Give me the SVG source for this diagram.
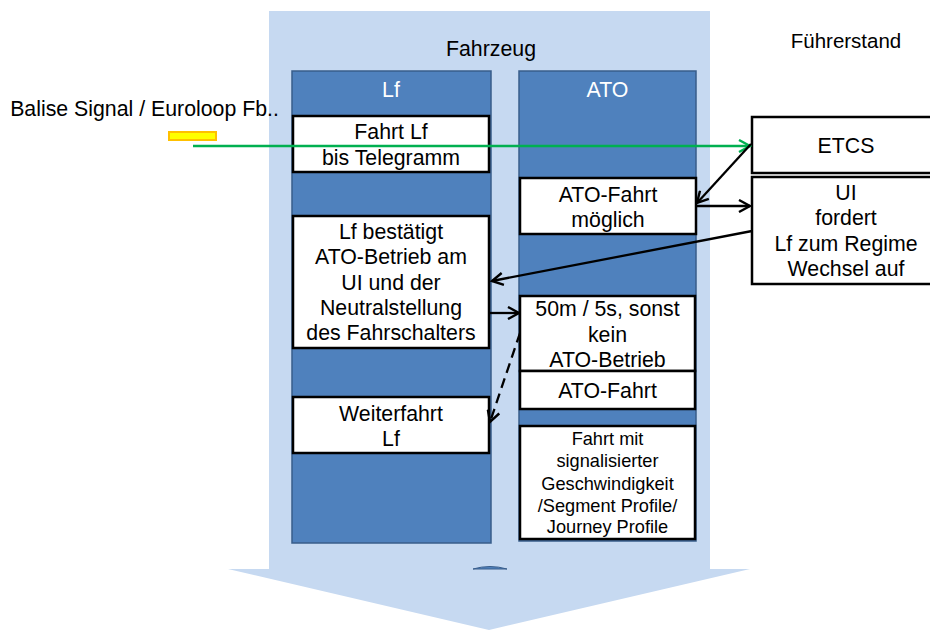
<svg xmlns="http://www.w3.org/2000/svg" width="930" height="630" viewBox="0 0 930 630">
<style>
text{font-family:"Liberation Sans",Arial,sans-serif;fill:#000;text-anchor:middle;font-size:21.3px}
.col{fill:#4F81BD;stroke:#385D8A;stroke-width:1.5}
.box{fill:#fff;stroke:#000;stroke-width:2.5}
.hdr{fill:#fff}
.sm{font-size:18.2px}
.blk{stroke:#000;stroke-width:2.3;fill:none}
.grn{stroke:#00B050;stroke-width:2.3;fill:none}
</style>
<defs>
<marker id="ab" markerUnits="userSpaceOnUse" markerWidth="14" markerHeight="14" viewBox="0 0 14 14" refX="12" refY="7" orient="auto">
<path d="M1,1 L12,7 L1,13" fill="none" stroke="#000" stroke-width="2.4"/>
</marker>
<marker id="ag" markerUnits="userSpaceOnUse" markerWidth="14" markerHeight="14" viewBox="0 0 14 14" refX="12" refY="7" orient="auto">
<path d="M1,1 L12,7 L1,13" fill="none" stroke="#00B050" stroke-width="2.4"/>
</marker>
</defs>
<g id="fahrzeug">
<polygon points="269,11 710,11 710,569 750,569 489,630 228,569 269,569" fill="#C6D9F1"/>
<path d="M473,569 Q490,564 507,569 Z" fill="#4F81BD" stroke="#385D8A" stroke-width="1"/>
<text x="491" y="56">Fahrzeug</text>
</g>
<g id="fuehrerstand"><text x="846" y="48" style="font-size:20.5px">Führerstand</text></g>
<g id="balise">
<text x="144.5" y="116">Balise Signal / Euroloop Fb..</text>
<rect x="169" y="132" width="47" height="8" fill="#FFFF00" stroke="#FFC000" stroke-width="2"/>
</g>
<g id="col-lf">
<rect class="col" x="292" y="71" width="199" height="472"/>
<text class="hdr" x="391" y="97">Lf</text>
</g>
<g id="col-ato">
<rect class="col" x="519" y="71" width="177" height="470"/>
<text class="hdr" x="607.5" y="97">ATO</text>
</g>
<g id="fahrt-lf">
<rect class="box" x="293" y="116" width="196" height="56"/>
<text x="391" y="139">Fahrt Lf</text>
<text x="391" y="165">bis Telegramm</text>
</g>
<g id="lf-bestaetigt">
<rect class="box" x="293" y="216" width="196" height="132"/>
<text x="391" y="239">Lf bestätigt</text>
<text x="391" y="264">ATO-Betrieb am</text>
<text x="391" y="290">UI und der</text>
<text x="391" y="315">Neutralstellung</text>
<text x="391" y="340">des Fahrschalters</text>
</g>
<g id="weiterfahrt">
<rect class="box" x="293" y="397" width="196" height="56"/>
<text x="391" y="421">Weiterfahrt</text>
<text x="391" y="446">Lf</text>
</g>
<g id="ato-moeglich">
<rect class="box" x="520" y="178" width="176" height="56"/>
<text x="608" y="202">ATO-Fahrt</text>
<text x="608" y="227">möglich</text>
</g>
<g id="ato-50m">
<rect class="box" x="520" y="296" width="175" height="75"/>
<text x="607.5" y="316">50m / 5s, sonst</text>
<text x="607.5" y="342">kein</text>
<text x="607.5" y="367">ATO-Betrieb</text>
</g>
<g id="ato-fahrt">
<rect class="box" x="520" y="371" width="175" height="38"/>
<text x="607.5" y="398">ATO-Fahrt</text>
</g>
<g id="fahrt-mit">
<rect class="box" x="520" y="426" width="175" height="113"/>
<text class="sm" x="607.5" y="445">Fahrt mit</text>
<text class="sm" x="607.5" y="467">signalisierter</text>
<text class="sm" x="607.5" y="490">Geschwindigkeit</text>
<text class="sm" x="607.5" y="512">/Segment Profile/</text>
<text class="sm" x="607.5" y="533">Journey Profile</text>
</g>
<g id="etcs">
<rect class="box" x="752" y="117" width="188" height="56"/>
<text x="846" y="153">ETCS</text>
</g>
<g id="ui">
<rect class="box" x="752" y="177" width="188" height="107"/>
<text x="846" y="200">UI</text>
<text x="846" y="225">fordert</text>
<text x="846" y="251">Lf zum Regime</text>
<text x="846" y="276">Wechsel auf</text>
</g>
<g id="connectors">
<line class="grn" x1="193" y1="146" x2="750" y2="146" marker-end="url(#ag)"/>
<line class="blk" x1="751" y1="144" x2="697" y2="203" marker-end="url(#ab)"/>
<line class="blk" x1="696" y1="206" x2="750" y2="206" marker-end="url(#ab)"/>
<line class="blk" x1="752" y1="231" x2="492" y2="281" marker-end="url(#ab)"/>
<line class="blk" x1="489" y1="313" x2="519" y2="313" marker-end="url(#ab)"/>
<line class="blk" x1="520" y1="333" x2="490" y2="422" stroke-dasharray="10,6" stroke-width="2.6" marker-end="url(#ab)"/>
</g>
</svg>
